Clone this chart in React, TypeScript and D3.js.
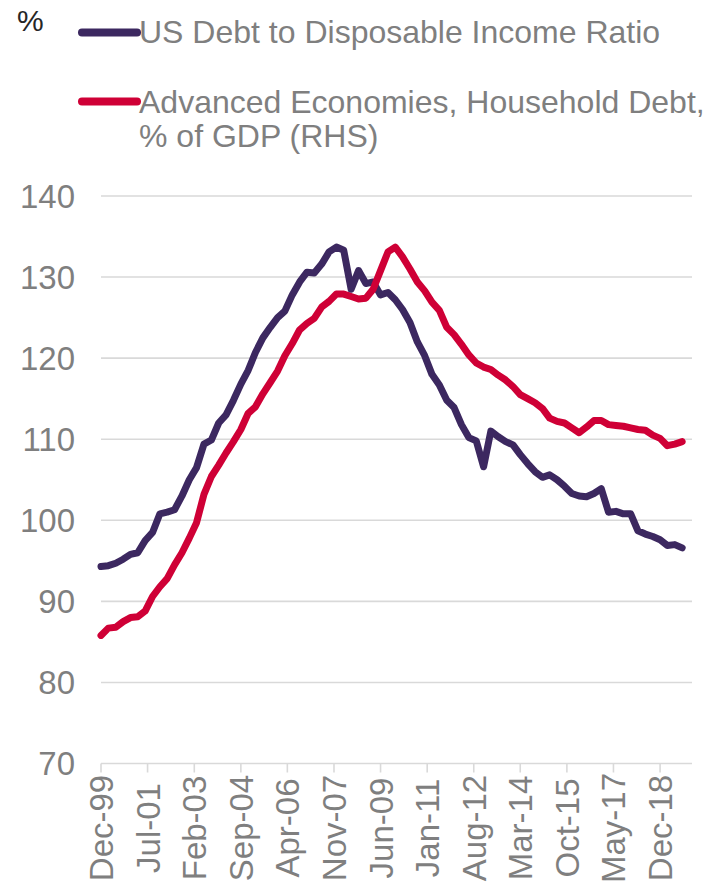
import React from "react";
import * as d3 from "d3";

// Quarterly observations, Dec-1999 .. Sep-2019
const usDebtToIncome = [
  94.3, 94.4, 94.7, 95.2, 95.8, 96.0, 97.5, 98.5, 100.8, 101.0,
  101.3, 103.0, 105.0, 106.5, 109.4, 109.9, 112.0, 113.0, 114.8, 116.8,
  118.5, 120.7, 122.5, 123.8, 125.0, 125.8, 127.8, 129.4, 130.6, 130.5,
  131.6, 133.1, 133.7, 133.3, 128.5, 130.8, 129.2, 129.4, 127.8, 128.1,
  127.2, 126.0, 124.4, 122.0, 120.3, 118.0, 116.7, 114.8, 113.9, 111.8,
  110.2, 109.8, 106.6, 111.0, 110.3, 109.7, 109.3, 108.1, 107.0, 106.0,
  105.3, 105.6, 105.0, 104.2, 103.3, 103.0, 102.9, 103.3, 103.9, 101.0,
  101.1, 100.8, 100.8, 98.7, 98.3, 98.0, 97.6, 96.9, 97.0, 96.6,
];

const advEconHouseholdDebt = [
  85.8, 86.7, 86.8, 87.5, 88.0, 88.1, 88.8, 90.6, 91.8, 92.8,
  94.5, 96.0, 97.8, 99.7, 103.2, 105.4, 106.8, 108.3, 109.7, 111.2,
  113.2, 114.0, 115.6, 117.0, 118.4, 120.3, 121.8, 123.5, 124.3, 124.9,
  126.3, 127.0, 127.9, 127.9, 127.6, 127.3, 127.4, 128.5, 130.8, 133.1,
  133.7, 132.5, 131.0, 129.4, 128.3, 126.9, 125.9, 123.8, 122.9, 121.7,
  120.4, 119.4, 118.9, 118.6, 117.9, 117.3, 116.5, 115.5, 115.0, 114.5,
  113.8, 112.6, 112.2, 112.0, 111.4, 110.8, 111.5, 112.3, 112.3, 111.8,
  111.7, 111.6, 111.4, 111.2, 111.1, 110.5, 110.1, 109.2, 109.4, 109.7,
];

const firstDate = new Date(1999, 11, 1);
const dates = usDebtToIncome.map((_, i) => d3.timeMonth.offset(firstDate, 3 * i));

const xTickLabels = [
  "Dec-99", "Jul-01", "Feb-03", "Sep-04", "Apr-06", "Nov-07", "Jun-09",
  "Jan-11", "Aug-12", "Mar-14", "Oct-15", "May-17", "Dec-18",
];
const xTickDates = xTickLabels.map((s) => d3.timeParse("%b-%y")(s) as Date);
const yTicks = [70, 80, 90, 100, 110, 120, 130, 140];

const seriesNames = [
  "US Debt to Disposable Income Ratio",
  "Advanced Economies, Household Debt,",
  "% of GDP (RHS)",
];

const PURPLE = "#3c2860";
const RED = "#cf0036";
const GRAY_TEXT = "#7f7f7f";
const GRID = "#d9d9d9";
const FONT = "'Liberation Sans', Arial, sans-serif";

export default function App() {
  const x = d3
    .scaleTime()
    .domain([firstDate, d3.timeMonth.offset(firstDate, 241)])
    .range([101, 692]);
  const y = d3.scaleLinear().domain([70, 140]).range([763.5, 196]);

  const line = d3
    .line<number>()
    .x((_, i) => x(dates[i]))
    .y((d) => y(d));

  return (
    <svg
      width={710}
      height={893}
      style={{ position: "absolute", left: 0, top: 0, background: "#fff" }}
      fontFamily={FONT}
    >
      <text x={17} y={31} fontSize={30} fill="#262626">%</text>

      {/* legend */}
      <line x1={82} x2={137} y1={32.5} y2={32.5} stroke={PURPLE} strokeWidth={8} strokeLinecap="round" />
      <text x={139} y={43} fontSize={32} fill={GRAY_TEXT}>{seriesNames[0]}</text>
      <line x1={82} x2={137} y1={101.5} y2={101.5} stroke={RED} strokeWidth={8} strokeLinecap="round" />
      <text x={139} y={113} fontSize={32} fill={GRAY_TEXT}>{seriesNames[1]}</text>
      <text x={139} y={147} fontSize={32} fill={GRAY_TEXT}>{seriesNames[2]}</text>

      {/* gridlines */}
      {yTicks.map((t) => (
        <g key={t}>
          <line x1={101} x2={692} y1={y(t)} y2={y(t)} stroke={GRID} strokeWidth={1.6} />
          <text x={75} y={y(t) + 11.5} fontSize={33} fill={GRAY_TEXT} textAnchor="end">
            {t}
          </text>
        </g>
      ))}

      {/* x ticks */}
      {xTickDates.map((d, i) => (
        <g key={xTickLabels[i]}>
          <line x1={x(d)} x2={x(d)} y1={y(70)} y2={y(70) + 9} stroke={GRID} strokeWidth={1.6} />
          <text
            transform={`translate(${x(d) + 12},828) rotate(-90)`}
            fontSize={33}
            fill={GRAY_TEXT}
            textAnchor="middle"
          >
            {xTickLabels[i]}
          </text>
        </g>
      ))}

      <path d={line(usDebtToIncome) ?? ""} fill="none" stroke={PURPLE} strokeWidth={7} strokeLinejoin="round" strokeLinecap="round" />
      <path d={line(advEconHouseholdDebt) ?? ""} fill="none" stroke={RED} strokeWidth={7} strokeLinejoin="round" strokeLinecap="round" />
    </svg>
  );
}
